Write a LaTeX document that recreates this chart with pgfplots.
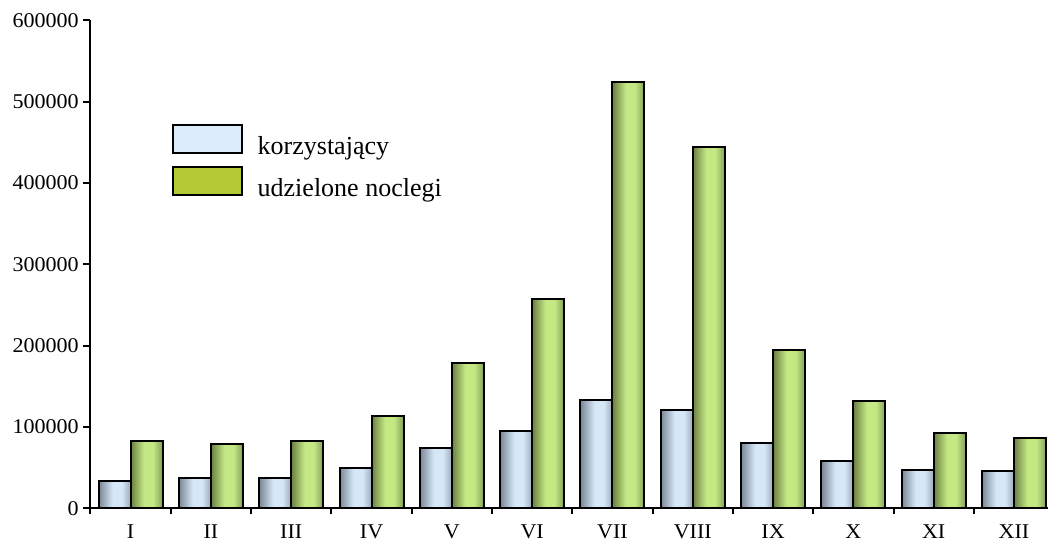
\documentclass[border=0pt]{standalone}
\usepackage{fontspec}
\setmainfont{Liberation Serif}
\newfontfamily\tickfont[FakeStretch=1.05]{Liberation Serif}
\usepackage{pgfplots}
\usepackage{pgfplotstable}
\pgfplotsset{compat=1.18}
\definecolor{bdark}{HTML}{7A8696}
\definecolor{blight}{HTML}{D6E8F8}
\definecolor{bmid}{HTML}{9CAAB9}
\definecolor{gdark}{HTML}{6A7F42}
\definecolor{glight}{HTML}{C4E884}
\definecolor{gmid}{HTML}{84A058}
\definecolor{legblue}{HTML}{DCEBFA}
\definecolor{leggreen}{HTML}{B3C935}
\pgfdeclarehorizontalshading{blueshade}{100bp}{color(0bp)=(bdark); color(25bp)=(bdark); color(47bp)=(blight); color(61bp)=(blight); color(75bp)=(bmid); color(100bp)=(bmid)}
\pgfdeclarehorizontalshading{greenshade}{100bp}{color(0bp)=(gdark); color(25bp)=(gdark); color(46bp)=(glight); color(60bp)=(glight); color(75bp)=(gmid); color(100bp)=(gmid)}
\pgfplotstableread{
x blue green
0 33700 82600
1 37300 78600
2 37300 82600
3 49900 113600
4 74000 179000
5 95200 257300
6 133700 524500
7 121400 444100
8 80200 195200
9 58100 132000
10 47500 92400
11 45500 86700
}\data
\begin{document}
\begin{tikzpicture}
\begin{axis}[
  name=ax,
  scale only axis,
  width=478.75pt, height=243.9pt,
  xmin=-0.5, xmax=11.424,
  ymin=0, ymax=600000,
  scaled y ticks=false,
  axis lines*=left,
  axis line style={line width=1pt, black},
  tick align=outside,
  tick style={line width=1pt, black},
  xtick={0,1,2,3,4,5,6,7,8,9,10,11},
  xticklabels={I,II,III,IV,V,VI,VII,VIII,IX,X,XI,XII},
  every major x tick/.append style={draw=none},
  minor xtick={-0.5,0.5,1.5,2.5,3.5,4.5,5.5,6.5,7.5,8.5,9.5,10.5},
  minor tick length=3pt,
  major tick length=3.5pt,
  ytick={0,100000,200000,300000,400000,500000,600000},
  yticklabels={0,100000,200000,300000,400000,500000,600000},
  ticklabel style={font=\tickfont\fontsize{10.5}{12}\selectfont, inner sep=0pt},
  yticklabel style={xshift=-2.2pt},
  xticklabel style={yshift=-4.5pt},
  clip=false,
  legend cell align=left,
  legend style={at={(rel axis cs:0.0848,0.7878)}, anchor=north west, draw=none, fill=none,
    font=\fontsize{13}{15}\selectfont, inner sep=0pt, outer sep=0pt,
    row sep=4.3pt, column sep=7.5pt, nodes={inner sep=0pt}},
  legend image code/.code={\draw[#1] (0pt,-3pt) rectangle (34.5pt,11pt);},
]
\pgfplotsinvokeforeach{0,...,11}{
  \addplot[ybar, bar width=16pt, bar shift=-8pt, draw=black, line width=1pt, shade, shading=blueshade, forget plot, restrict x to domain=#1:#1]
    table[x=x, y=blue] {\data};
  \addplot[ybar, bar width=16pt, bar shift=8pt, draw=black, line width=1pt, shade, shading=greenshade, forget plot, restrict x to domain=#1:#1]
    table[x=x, y=green] {\data};
}
\addlegendimage{fill=legblue, draw=black, line width=1pt}
\addlegendentry{korzystający}
\addlegendimage{fill=leggreen, draw=black, line width=1pt}
\addlegendentry{udzielone noclegi}
\end{axis}
\pgfresetboundingbox
\path[use as bounding box] ([xshift=-45.25pt,yshift=-16.85pt]ax.south west) rectangle ([yshift=10.25pt]ax.north east);
\end{tikzpicture}
\end{document}
